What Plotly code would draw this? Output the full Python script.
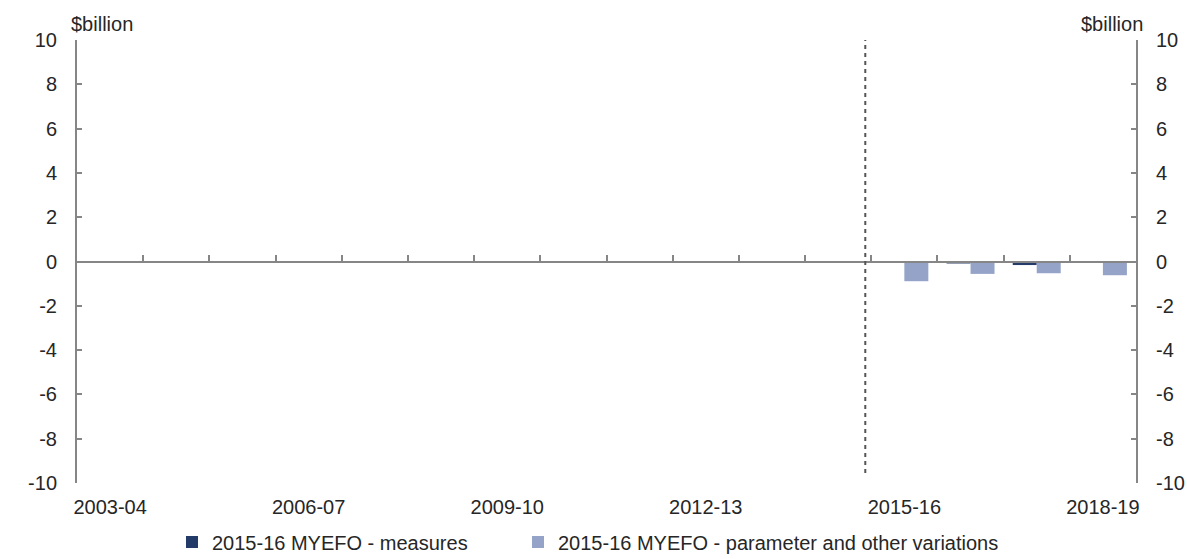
import plotly.graph_objects as go

# Financial years on the horizontal axis
years = ["2003-04", "2004-05", "2005-06", "2006-07", "2007-08", "2008-09",
         "2009-10", "2010-11", "2011-12", "2012-13", "2013-14", "2014-15",
         "2015-16", "2016-17", "2017-18", "2018-19"]

# Only the forward years carry MYEFO variations ($billion)
measures = [None] * 12 + [0.0, -0.09, -0.16, 0.0]
parameter_other = [None] * 12 + [-0.89, -0.56, -0.53, -0.62]

# Labelled years (every third) and value-axis ticks
label_years = years[::3]
y_ticks = list(range(-10, 11, 2))
y_tick_labels = [str(v) for v in y_ticks]  # plain hyphen for negatives

FONT = "Liberation Sans, Arial, sans-serif"
TEXT = "#262626"
AXIS = "#868686"
DARK = "#243A68"
LIGHT = "#95A3C9"

fig = go.Figure()
fig.add_trace(go.Bar(x=years, y=measures, name="2015-16 MYEFO - measures",
                     marker=dict(color=DARK, line_width=0), legendwidth=301))
fig.add_trace(go.Bar(x=years, y=parameter_other,
                     name="2015-16 MYEFO - parameter and other variations",
                     marker=dict(color=LIGHT, line_width=0)))
# carrier for the zero-crossing axis and the right-hand value axis
fig.add_trace(go.Scatter(x=[None], y=[None], xaxis="x2", yaxis="y2",
                         showlegend=False, hoverinfo="skip"))

n = len(years)
yaxis_common = dict(range=[-10, 10], tickvals=y_ticks, ticktext=y_tick_labels,
                    ticks="inside", ticklen=5, tickwidth=2, tickcolor=AXIS,
                    showline=True, linecolor=AXIS, linewidth=2, showgrid=False,
                    zeroline=False, automargin=False, ticklabelstandoff=14,
                    tickfont=dict(size=20, color=TEXT))

fig.update_layout(
    width=1187, height=559,
    margin=dict(l=77, r=51, t=40, b=76, autoexpand=False),
    paper_bgcolor="white", plot_bgcolor="white",
    font=dict(family=FONT, size=20, color=TEXT),
    barmode="group", bargap=0.275, bargroupgap=0,
    showlegend=True,
    legend=dict(orientation="h", x=0.0897, xanchor="left", y=-0.133,
                yanchor="middle", font=dict(size=20, color=TEXT),
                bgcolor="rgba(0,0,0,0)", itemwidth=30),
    xaxis=dict(type="category", categoryorder="array", categoryarray=years,
               range=[-0.5, n - 0.5], tickvals=label_years, ticktext=label_years,
               ticks="", showline=False, showgrid=False, zeroline=False,
               automargin=False, ticklabelstandoff=10,
               tickfont=dict(size=20, color=TEXT)),
    xaxis2=dict(overlaying="x", anchor="free", position=0.5, side="bottom",
                range=[-0.5, n - 0.5],
                tickvals=[i + 0.5 for i in range(n - 1)],
                ticks="inside", ticklen=6, tickwidth=2, tickcolor=AXIS,
                showticklabels=False, showline=True, linecolor=AXIS, linewidth=2,
                showgrid=False, zeroline=False, automargin=False),
    yaxis=dict(**yaxis_common),
    yaxis2=dict(**yaxis_common, overlaying="y", side="right", anchor="x"),
)

# forecast divider
fig.add_shape(type="line", xref="x", yref="y", x0=11.41, x1=11.41,
              y0=-9.55, y1=10.5, line=dict(color="#555555", width=2, dash="4px,4px"))

# unit labels above both value axes
fig.add_annotation(text="$billion", xref="paper", yref="paper", x=-0.0073, y=1.036,
                   xanchor="left", yanchor="middle", showarrow=False,
                   font=dict(size=20, color=TEXT))
fig.add_annotation(text="$billion", xref="paper", yref="paper", x=1.0085, y=1.036,
                   xanchor="right", yanchor="middle", showarrow=False,
                   font=dict(size=20, color=TEXT))

fig.write_html("out.html")
